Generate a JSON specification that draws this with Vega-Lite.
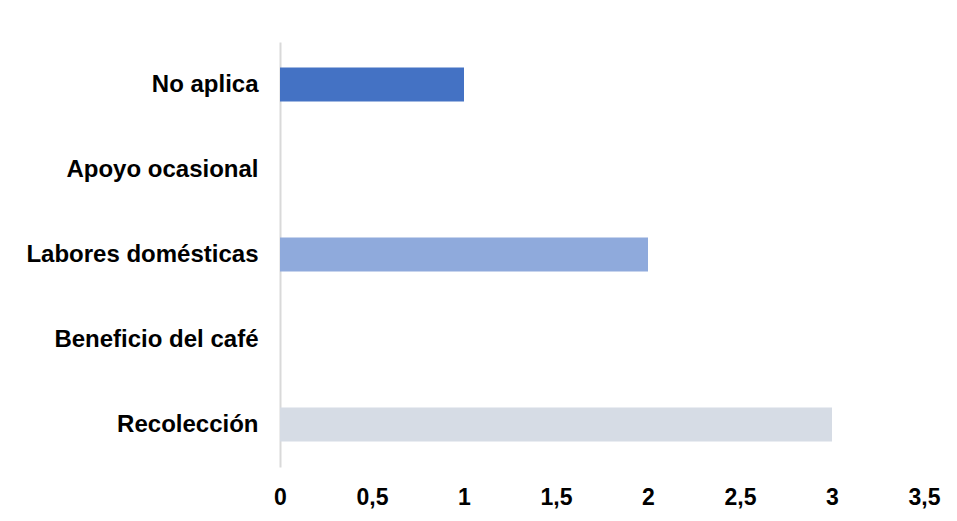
{
  "$schema": "https://vega.github.io/schema/vega-lite/v6.json",
  "width": 644,
  "height": 425,
  "autosize": {"type": "none"},
  "padding": {"left": 280, "top": 42, "right": 33, "bottom": 54},
  "background": "white",
  "config": {"view": {"stroke": null}, "font": "Liberation Sans"},
  "data": {"values": [
    {"cat": "No aplica", "val": 1, "color": "#4472C4"},
    {"cat": "Apoyo ocasional", "val": 0, "color": "#6E8FD0"},
    {"cat": "Labores domésticas", "val": 2, "color": "#8FAADC"},
    {"cat": "Beneficio del café", "val": 0, "color": "#B4C5E7"},
    {"cat": "Recolección", "val": 3, "color": "#D6DCE5"}
  ]},
  "mark": {"type": "bar"},
  "encoding": {
    "y": {"field": "cat", "type": "nominal", "sort": null,
      "scale": {"paddingInner": 0.6, "paddingOuter": 0.3},
      "axis": {"title": null, "ticks": false, "domainColor": "#d9d9d9", "domainWidth": 2,
        "labelFontSize": 24, "labelFontWeight": "bold", "labelColor": "#000000", "labelPadding": 22, "labelLimit": 300}},
    "x": {"field": "val", "type": "quantitative",
      "scale": {"domain": [0, 3.5], "nice": false},
      "axis": {"title": null, "values": [0, 0.5, 1, 1.5, 2, 2.5, 3, 3.5], "grid": false, "domain": false, "ticks": false,
        "labelExpr": "replace(toString(datum.value), '.', ',')",
        "labelFont": "Liberation Sans Narrow, Liberation Sans",
        "labelFontSize": 23, "labelFontWeight": "bold", "labelColor": "#000000", "labelPadding": 19, "labelFlush": false}},
    "color": {"field": "color", "type": "nominal", "scale": null}
  }
}
